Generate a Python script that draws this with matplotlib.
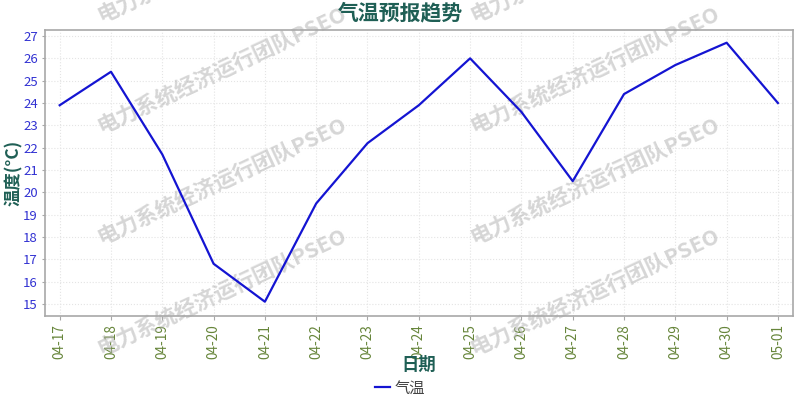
import matplotlib
matplotlib.use("Agg")
import matplotlib.pyplot as plt

plt.rcParams['font.family'] = ['Noto Sans CJK SC', 'DejaVu Sans']
plt.rcParams['axes.unicode_minus'] = False

dates = ["04-17", "04-18", "04-19", "04-20", "04-21", "04-22", "04-23", "04-24",
         "04-25", "04-26", "04-27", "04-28", "04-29", "04-30", "05-01"]
temps = [23.9, 25.4, 21.7, 16.8, 15.1, 19.5, 22.2, 23.9,
         26.0, 23.6, 20.5, 24.4, 25.7, 26.7, 24.0]
yticks = list(range(15, 28))

fig, ax = plt.subplots(figsize=(8, 4), dpi=100)
fig.subplots_adjust(left=0.056, right=0.991, top=0.925, bottom=0.21)

x = list(range(len(dates)))
ax.plot(x, temps, color="#1414d2", linewidth=1.6, label="气温", zorder=3)

ax.set_xticks(x)
ax.set_xticklabels(dates, rotation=90, color="#66853a", fontsize=9.8)
ax.set_yticks(yticks)
ax.set_yticklabels([str(v) for v in yticks], color="#3232d2", fontsize=9.5)
ax.set_xlim(-0.29, len(dates) - 1 + 0.29)
ax.set_ylim(14.46, 27.27)

ax.grid(True, color="#e4e4e4", linestyle=":", linewidth=0.8)
for s in ax.spines.values():
    s.set_color("#a8a8a8")
    s.set_linewidth(1.2)
ax.tick_params(axis="x", length=3, color="#a8a8a8", pad=3)
ax.tick_params(axis="y", length=2, color="#a8a8a8", pad=3)

ax.set_ylabel("温度(°C)", color="#1f5f55", fontsize=12.5, fontweight="bold", va="center")
ax.yaxis.set_label_coords(-0.041, 0.5)
ax.set_xlabel("日期", color="#1f5f55", fontsize=12.5, fontweight="bold", va="center")
ax.xaxis.set_label_coords(0.5, -0.172)
fig.suptitle("气温预报趋势", color="#1f5f55", fontsize=15, fontweight="bold", x=0.5, y=0.995)

fig.legend(loc="center", bbox_to_anchor=(0.5, 0.03), frameon=False,
           handlelength=1.0, handletextpad=0.3, fontsize=11, labelcolor="#444444",
           borderpad=0)

# watermark
wm_x = [222, 595]
wm_y = [-41, 70, 181, 292]
for cx in wm_x:
    for cy in wm_y:
        ax.text(cx / 800, 1 - cy / 400, "电力系统经济运行团队PSEO", transform=fig.transFigure,
                rotation=25, ha="center", va="center", fontsize=15.5, fontweight="bold",
                color="#b4b4b4", alpha=0.55, zorder=1.8, clip_on=False)

fig.savefig("out.png", dpi=100)
